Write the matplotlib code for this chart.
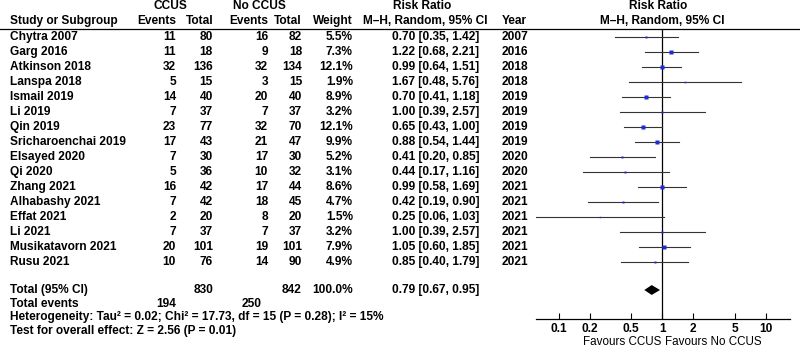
import numpy as np
import matplotlib
matplotlib.use("Agg")
import matplotlib.pyplot as plt

plt.rcParams['font.family'] = ['Liberation Sans', 'DejaVu Sans']

studies = ["Chytra 2007", "Garg 2016", "Atkinson 2018", "Lanspa 2018", "Ismail 2019",
           "Li 2019", "Qin 2019", "Sricharoenchai 2019", "Elsayed 2020", "Qi 2020",
           "Zhang 2021", "Alhabashy 2021", "Effat 2021", "Li 2021", "Musikatavorn 2021",
           "Rusu 2021"]
ccus_events = [11, 11, 32, 5, 14, 7, 23, 17, 7, 5, 16, 7, 2, 7, 20, 10]
ccus_total = [80, 18, 136, 15, 40, 37, 77, 43, 30, 36, 42, 42, 20, 37, 101, 76]
no_events = [16, 9, 32, 3, 20, 7, 32, 21, 17, 10, 17, 18, 8, 7, 19, 14]
no_total = [82, 18, 134, 15, 40, 37, 70, 47, 30, 32, 44, 45, 20, 37, 101, 90]
weight = [5.5, 7.3, 12.1, 1.9, 8.9, 3.2, 12.1, 9.9, 5.2, 3.1, 8.6, 4.7, 1.5, 3.2, 7.9, 4.9]
rr = [0.70, 1.22, 0.99, 1.67, 0.70, 1.00, 0.65, 0.88, 0.41, 0.44, 0.99, 0.42, 0.25, 1.00, 1.05, 0.85]
lo = [0.35, 0.68, 0.64, 0.48, 0.41, 0.39, 0.43, 0.54, 0.20, 0.17, 0.58, 0.19, 0.06, 0.39, 0.60, 0.40]
hi = [1.42, 2.21, 1.51, 5.76, 1.18, 2.57, 1.00, 1.44, 0.85, 1.16, 1.69, 0.90, 1.03, 2.57, 1.85, 1.79]
years = [2007, 2016, 2018, 2018, 2019, 2019, 2019, 2019, 2020, 2020, 2021, 2021, 2021, 2021, 2021, 2021]

total_rr, total_lo, total_hi = 0.79, 0.67, 0.95
total_n = [830, 842]
total_events = [194, 250]
ticks = [0.1, 0.2, 0.5, 1, 2, 5, 10]

W, H = 800, 347
fig = plt.figure(figsize=(8, 3.47), dpi=100)
bg = fig.add_axes([0, 0, 1, 1])
bg.set_xlim(0, W)
bg.set_ylim(H, 0)
bg.axis('off')

fs = 8.6
kw = dict(fontsize=fs, fontweight='bold', va='center')
xl = 10

# header
bg.text(170, 6, "CCUS", ha='center', **kw)
bg.text(259, 6, "No CCUS", ha='center', **kw)
bg.text(422, 6, "Risk Ratio", ha='center', **kw)
bg.text(658, 6, "Risk Ratio", ha='center', **kw)
bg.text(xl, 21, "Study or Subgroup", ha='left', **kw)
bg.text(176, 21, "Events", ha='right', **kw)
bg.text(213, 21, "Total", ha='right', **kw)
bg.text(268, 21, "Events", ha='right', **kw)
bg.text(302, 21, "Total", ha='right', **kw)
bg.text(353, 21, "Weight", ha='right', **kw)
bg.text(425, 21, "M\u2013H, Random, 95% CI", ha='center', **kw)
bg.text(502, 21, "Year", ha='left', **kw)
bg.text(662, 21, "M\u2013H, Random, 95% CI", ha='center', **kw)
bg.plot([0, W], [29, 29], color='black', lw=0.9)

row0, dy = 37, 15
for i, s in enumerate(studies):
    y = row0 + i * dy
    bg.text(xl, y, s, ha='left', **kw)
    bg.text(176, y, str(ccus_events[i]), ha='right', **kw)
    bg.text(213, y, str(ccus_total[i]), ha='right', **kw)
    bg.text(268, y, str(no_events[i]), ha='right', **kw)
    bg.text(302, y, str(no_total[i]), ha='right', **kw)
    bg.text(353, y, f"{weight[i]:.1f}%", ha='right', **kw)
    bg.text(392, y, f"{rr[i]:.2f} [{lo[i]:.2f}, {hi[i]:.2f}]", ha='left', **kw)
    bg.text(502, y, str(years[i]), ha='left', **kw)

yt = 290
bg.text(xl, yt, "Total (95% CI)", ha='left', **kw)
bg.text(213, yt, str(total_n[0]), ha='right', **kw)
bg.text(302, yt, str(total_n[1]), ha='right', **kw)
bg.text(353, yt, "100.0%", ha='right', **kw)
bg.text(392, yt, f"{total_rr:.2f} [{total_lo:.2f}, {total_hi:.2f}]", ha='left', **kw)
bg.text(xl, 304, "Total events", ha='left', **kw)
bg.text(176, 304, str(total_events[0]), ha='right', **kw)
bg.text(262, 304, str(total_events[1]), ha='right', **kw)
bg.text(xl, 317, "Heterogeneity: Tau\u00b2 = 0.02; Chi\u00b2 = 17.73, df = 15 (P = 0.28); I\u00b2 = 15%",
        ha='left', **kw)
bg.text(xl, 331, "Test for overall effect: Z = 2.56 (P = 0.01)", ha='left', **kw)

# forest panel
x0, x1, ytop, ybot = 536, 790, 29, 319
ax = fig.add_axes([x0 / W, 1 - ybot / H, (x1 - x0) / W, (ybot - ytop) / H])
ax.patch.set_alpha(0)
ax.set_xscale('log')
ax.set_xlim(0.06, 17.2)
ylo = (ytop - row0) / dy
yhi = (ybot - row0) / dy
ax.set_ylim(yhi, ylo)
for sp in ['top', 'left', 'right']:
    ax.spines[sp].set_visible(False)
ax.spines['bottom'].set_linewidth(0.9)
ax.set_yticks([])
ax.set_xticks(ticks)
ax.set_xticklabels([str(t) for t in ticks], fontsize=8.6, fontweight='bold')
ax.xaxis.set_minor_locator(matplotlib.ticker.NullLocator())
ax.tick_params(axis='x', direction='in', length=4, width=0.8, pad=3)

ax.axvline(1, color='black', lw=0.9)
for i in range(len(studies)):
    ax.plot([lo[i], hi[i]], [i, i], color='#333333', lw=0.8)
    ax.plot(rr[i], i, marker='s', color='#1f2bd6', ms=0.85 * np.sqrt(weight[i]), mec='none')

yd = (yt - row0) / dy
ax.fill([total_lo, total_rr, total_hi, total_rr], [yd, yd - 0.33, yd, yd + 0.33],
        color='black', lw=0)

bg.text(622, 342, "Favours CCUS", ha='center', va='center', fontsize=8.4)
bg.text(713, 342, "Favours No CCUS", ha='center', va='center', fontsize=8.4)

fig.savefig("out.png", dpi=100)
